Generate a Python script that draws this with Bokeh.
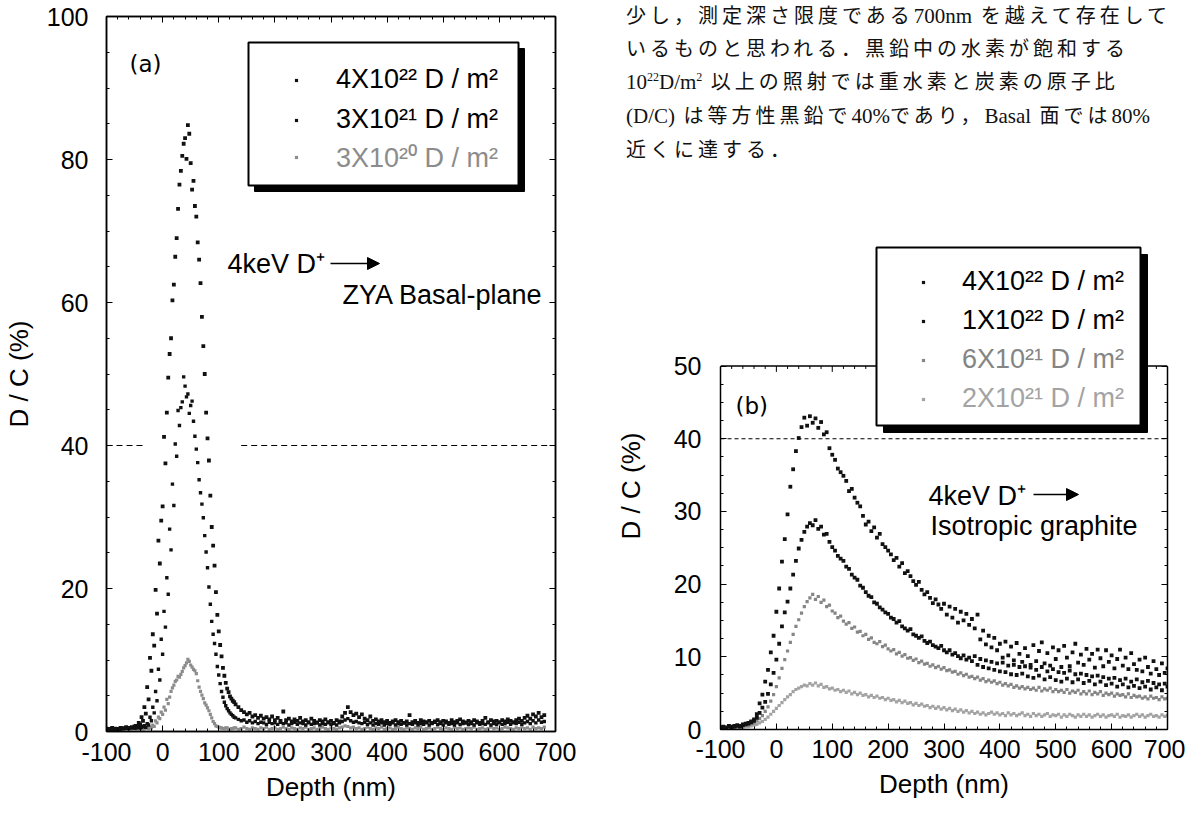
from bokeh.plotting import figure
from bokeh.models import (Range1d, LinearAxis, SingleIntervalTicker, Legend, LegendItem,
                          BoxAnnotation, Label, Arrow, NormalHead, Div, CustomJSTickFormatter, Span)
from bokeh.layouts import row, column
from bokeh.embed import file_html
from bokeh.resources import INLINE

FONT = "Liberation Sans"

# ---------------- data: panel (a) ZYA basal plane ----------------
depth_a = list(range(-100, 685, 5))
dc_a_4e22 = [
    0.4, 0.3, 0.5, 0.4, 0.3, 0.5, 0.4, 0.6, 0.5, 0.6,
    0.7, 0.8, 1.0, 1.5, 2.5, 4.5, 8.5, 12.0, 16.5, 23.5,
    31.5, 37.5, 49.5, 55.0, 62.5, 69.0, 76.5, 80.5, 83.0, 84.8,
    79.5, 77.0, 72.0, 66.0, 58.0, 50.0, 41.0, 33.0, 26.0, 19.5,
    14.0, 10.5, 7.8, 6.0, 4.9, 4.3, 3.8, 3.4, 3.0, 2.7,
    2.4, 2.6, 2.1, 2.3, 1.9, 2.2, 1.8, 2.0, 1.7, 2.1,
    1.6, 1.9, 1.5, 2.8, 1.6, 1.8, 1.4, 1.7, 1.5, 1.9,
    1.4, 1.6, 1.3, 1.8, 1.5, 1.2, 1.6, 1.4, 1.7, 1.3,
    1.5, 1.2, 1.6, 1.4, 2.1, 2.6, 3.4, 2.7, 2.3, 2.5,
    2.0, 2.4, 1.8, 1.6, 2.1, 1.5, 1.7, 1.4, 1.6, 1.3,
    1.5, 1.2, 1.4, 1.6, 1.3, 1.5, 1.2, 1.4, 2.3, 1.3,
    1.5, 1.2, 1.6, 1.4, 1.3, 1.5, 1.2, 1.4, 1.6, 1.3,
    1.5, 1.4, 1.2, 1.6, 1.3, 1.5, 1.7, 1.4, 1.2, 1.5,
    1.3, 1.6, 1.4, 1.2, 1.5, 1.9, 1.3, 1.6, 1.4, 1.5,
    1.3, 1.6, 1.4, 1.7, 1.5, 1.3, 1.6, 1.8, 1.5, 1.9,
    2.2, 1.8, 2.4, 2.1, 2.6, 2.0, 2.3,
]
dc_a_3e21 = [
    0.3, 0.4, 0.3, 0.3, 0.4, 0.3, 0.5, 0.4, 0.4, 0.5,
    0.5, 0.6, 0.5, 0.7, 0.6, 0.9, 1.5, 2.6, 4.3, 7.2,
    10.8, 14.6, 19.2, 25.4, 31.6, 38.5, 42.8, 46.1, 48.3, 47.2,
    45.6, 43.4, 39.5, 35.2, 31.8, 27.4, 22.9, 17.8, 13.6, 10.8,
    7.9, 5.6, 4.1, 3.2, 2.6, 2.2, 1.9, 1.7, 1.5, 1.6,
    1.3, 1.5, 1.2, 1.4, 1.1, 1.3, 1.2, 1.0, 1.3, 1.1,
    1.2, 1.0, 1.3, 1.1, 1.2, 0.9, 1.1, 1.3, 1.0, 1.2,
    1.1, 0.9, 1.2, 1.0, 1.1, 1.3, 0.9, 1.1, 1.0, 1.2,
    1.0, 1.1, 0.9, 1.2, 1.4, 1.6, 1.8, 1.5, 1.3, 1.4,
    1.2, 1.1, 1.3, 1.0, 1.2, 0.9, 1.1, 1.0, 1.2, 0.9,
    1.1, 1.0, 1.2, 0.9, 1.1, 1.0, 1.2, 0.9, 1.1, 1.0,
    1.2, 0.9, 1.1, 1.0, 1.2, 0.9, 1.1, 1.3, 1.0, 1.1,
    0.9, 1.2, 1.0, 1.1, 0.9, 1.2, 1.0, 1.1, 1.3, 1.0,
    1.1, 0.9, 1.2, 1.0, 1.1, 1.0, 1.2, 0.9, 1.1, 1.0,
    1.2, 1.0, 1.1, 1.3, 1.0, 1.2, 1.1, 1.3, 1.0, 1.2,
    1.4, 1.1, 1.5, 1.2, 1.6, 1.3, 1.4,
]
dc_a_3e20 = [
    0.3, 0.4, 0.2, 0.3, 0.4, 0.3, 0.2, 0.4, 0.3, 0.3,
    0.4, 0.3, 0.4, 0.3, 0.5, 0.4, 0.5, 0.7, 1.2, 1.8,
    2.4, 3.0, 3.9, 5.6, 6.5, 7.2, 7.6, 8.4, 9.2, 10.1,
    9.3, 8.7, 8.1, 6.2, 5.1, 4.0, 3.3, 2.4, 1.4, 0.8,
    0.6, 0.5, 0.4, 0.5, 0.3, 0.4, 0.5, 0.3, 0.4, 0.6,
    0.4, 0.3, 0.5, 0.4, 0.3, 0.5, 0.4, 0.6, 0.3, 0.4,
    0.5, 0.3, 0.4, 0.6, 0.4, 0.3, 0.5, 0.4, 0.3, 0.5,
    0.4, 0.6, 0.3, 0.4, 0.5, 0.3, 0.4, 0.6, 0.4, 0.3,
    0.5, 0.4, 0.3, 0.5, 0.6, 0.8, 0.7, 0.5, 0.6, 0.4,
    0.5, 0.3, 0.4, 0.6, 0.4, 0.3, 0.5, 0.4, 0.6, 0.3,
    0.4, 0.5, 0.3, 0.4, 0.6, 0.4, 0.3, 0.5, 0.4, 0.3,
    0.5, 0.4, 0.6, 0.3, 0.4, 0.5, 0.3, 0.4, 0.6, 0.4,
    0.3, 0.5, 0.4, 0.3, 0.6, 0.4, 0.5, 0.3, 0.4, 0.5,
    0.4, 0.6, 0.3, 0.4, 0.5, 0.3, 0.4, 0.6, 0.4, 0.5,
    0.3, 0.4, 0.6, 0.5, 0.4, 0.3, 0.5, 0.4, 0.6, 0.4,
    0.5, 0.3, 0.6, 0.4, 0.5, 0.4, 0.6,
]
# extra (interleaved) points measured across the implantation peak
depth_a_peak = [-47.5 + 5 * i for i in range(36)]
dc_a_4e22_peak = [
    0.8, 1.2, 2.0, 3.4, 6.2, 10.3, 13.6, 19.8, 26.7, 29.5,
    41.2, 44.6, 52.8, 60.3, 66.4, 73.1, 78.4, 82.2, 80.1, 83.6,
    75.8, 73.5, 68.4, 62.7, 53.9, 44.6, 37.9, 28.6, 23.2, 16.3,
    12.1, 8.9, 6.8, 5.5, 4.6, 4.1,
]
dc_a_3e21_peak = [
    0.5, 0.6, 0.6, 0.8, 1.1, 2.0, 3.4, 5.6, 8.7, 12.9,
    16.8, 21.5, 28.3, 34.6, 40.2, 44.9, 45.3, 49.6, 46.8, 44.5,
    46.2, 41.3, 37.6, 33.4, 29.9, 25.1, 20.2, 15.4, 12.3, 9.1,
    6.7, 4.8, 3.6, 2.9, 2.4, 2.0,
]
dc_a_3e20_peak = [
    0.3, 0.4, 0.3, 0.4, 0.5, 0.6, 0.9, 1.5, 2.0, 2.7,
    3.4, 4.5, 4.8, 6.1, 7.0, 7.7, 8.0, 8.9, 9.6, 9.8,
    9.0, 8.5, 7.1, 5.6, 4.6, 3.7, 2.9, 1.9, 1.1, 0.7,
    0.5, 0.4, 0.5, 0.3, 0.4, 0.5,
]
labels_a = ["4X10²² D / m²", "3X10²¹ D / m²", "3X10²⁰ D / m²"]
guide_a_x0 = [-100, 140]
guide_a_x1 = [-35, 700]

# ---------------- data: panel (b) isotropic graphite ----------------
depth_b = list(range(-100, 705, 5))
dc_b_4e22 = [
    0.3, 0.4, 0.3, 0.5, 0.4, 0.5, 0.6, 0.5, 0.7, 0.8,
    0.9, 1.1, 1.4, 2.1, 3.6, 4.8, 6.6, 8.2, 10.6, 12.9,
    16.2, 19.4, 23.1, 26.2, 29.6, 33.4, 35.8, 38.3, 40.1, 41.6,
    42.9, 41.8, 43.1, 42.2, 42.8, 41.5, 42.3, 40.6, 40.9, 38.7,
    37.8, 37.1, 35.9, 35.4, 34.9, 34.2, 32.8, 33.1, 31.9, 31.2,
    30.7, 29.4, 28.2, 28.6, 27.3, 27.8, 26.4, 26.9, 25.5, 25.1,
    24.6, 24.1, 23.3, 23.6, 22.4, 22.9, 21.5, 21.8, 21.1, 20.4,
    19.9, 20.3, 19.2, 18.6, 18.9, 18.1, 17.4, 17.9, 17.2, 16.6,
    17.3, 15.8, 16.9, 15.4, 16.6, 14.7, 16.2, 15.0, 15.9, 14.4,
    15.2, 13.9, 15.8, 12.4, 13.6, 11.7, 12.9, 11.3, 12.6, 10.9,
    11.8, 9.9, 12.1, 10.2, 11.4, 9.5, 11.9, 10.4, 9.3, 11.2,
    10.1, 8.9, 11.6, 9.4, 10.8, 12.0, 9.1, 10.5, 8.8, 11.3,
    9.7, 10.9, 8.6, 11.5, 9.9, 8.7, 10.6, 11.8, 9.2, 10.3,
    8.9, 11.1, 9.6, 10.4, 8.5, 11.0, 9.8, 8.7, 10.9, 9.3,
    10.2, 8.4, 9.7, 11.0, 8.8, 9.9, 8.3, 10.5, 9.0, 8.2,
    9.6, 8.0, 9.9, 8.6, 7.7, 9.4, 8.3, 7.5, 9.1, 7.8,
    8.4,
]
dc_b_1e22 = [
    0.2, 0.3, 0.2, 0.4, 0.3, 0.4, 0.5, 0.4, 0.6, 0.7,
    0.8, 1.0, 1.2, 1.6, 2.3, 3.0, 3.8, 4.9, 6.2, 7.8,
    9.6, 11.8, 14.2, 16.1, 17.6, 19.4, 21.3, 23.2, 24.9, 26.1,
    27.2, 27.9, 28.4, 28.1, 28.8, 27.6, 27.9, 26.8, 26.9, 25.8,
    25.1, 24.6, 23.9, 23.5, 23.2, 22.4, 22.1, 21.3, 20.9, 20.6,
    19.8, 19.5, 18.9, 18.4, 18.2, 17.5, 17.3, 16.8, 16.5, 16.1,
    15.9, 15.4, 15.2, 14.7, 14.9, 14.2, 13.9, 13.6, 13.8, 13.1,
    12.9, 12.6, 12.8, 12.2, 11.9, 12.1, 11.6, 11.4, 11.2, 11.5,
    10.9, 10.6, 10.9, 10.3, 10.5, 10.1, 9.8, 10.2, 9.6, 9.9,
    9.4, 10.1, 8.9, 9.7, 8.6, 9.5, 8.4, 9.3, 8.2, 9.1,
    8.0, 9.2, 7.9, 8.8, 7.6, 8.9, 7.5, 8.6, 7.7, 8.7,
    7.3, 8.5, 7.1, 8.2, 7.4, 8.6, 6.9, 8.0, 7.2, 8.3,
    6.8, 7.9, 6.6, 7.8, 7.0, 8.1, 6.5, 7.6, 6.9, 7.7,
    6.4, 7.5, 6.7, 7.3, 6.2, 7.4, 6.6, 7.2, 6.1, 7.0,
    6.3, 7.1, 5.9, 6.8, 6.2, 7.0, 5.8, 6.6, 6.0, 6.9,
    5.7, 6.5, 5.9, 6.7, 5.5, 6.4, 5.8, 6.2, 5.4, 6.3,
    5.9,
]
dc_b_6e21 = [
    0.2, 0.3, 0.2, 0.3, 0.4, 0.3, 0.4, 0.5, 0.4, 0.6,
    0.6, 0.8, 0.9, 1.2, 1.5, 1.9, 2.5, 3.1, 3.9, 4.8,
    5.9, 7.1, 8.4, 9.6, 10.8, 12.0, 13.1, 14.2, 15.1, 16.0,
    16.9, 17.6, 18.1, 18.6, 17.9, 18.3, 17.5, 17.8, 16.9, 17.1,
    16.3, 16.0, 15.4, 15.6, 14.9, 14.5, 14.7, 13.9, 14.1, 13.4,
    13.5, 12.9, 13.1, 12.4, 12.6, 12.0, 11.8, 12.1, 11.4, 11.6,
    11.1, 10.8, 11.0, 10.4, 10.6, 10.1, 10.3, 9.8, 9.9, 9.5,
    9.7, 9.2, 9.4, 9.0, 9.1, 8.7, 8.9, 8.5, 8.7, 8.3,
    8.5, 8.1, 8.2, 7.9, 8.0, 7.6, 7.8, 7.4, 7.6, 7.2,
    7.3, 7.0, 7.2, 6.8, 7.0, 6.6, 6.8, 6.5, 6.7, 6.3,
    6.5, 6.1, 6.3, 6.0, 6.2, 5.8, 6.0, 5.7, 5.9, 5.6,
    5.8, 5.5, 5.7, 5.4, 5.8, 5.3, 5.6, 5.4, 5.7, 5.2,
    5.5, 5.2, 5.4, 5.1, 5.5, 5.0, 5.3, 5.1, 5.4, 4.9,
    5.2, 4.9, 5.3, 4.8, 5.1, 4.9, 5.2, 4.7, 5.0, 4.8,
    5.0, 4.6, 4.9, 4.7, 4.8, 4.5, 4.9, 4.4, 4.7, 4.5,
    4.6, 4.3, 4.5, 4.2, 4.6, 4.3, 4.4, 4.1, 4.5, 4.2,
    4.3,
]
dc_b_2e21 = [
    0.1, 0.2, 0.1, 0.2, 0.2, 0.3, 0.2, 0.3, 0.3, 0.4,
    0.4, 0.5, 0.6, 0.7, 0.9, 1.1, 1.4, 1.7, 2.1, 2.5,
    2.9, 3.3, 3.7, 4.1, 4.5, 4.8, 5.2, 5.5, 5.7, 5.9,
    6.1, 6.0, 6.3, 6.1, 6.4, 6.0, 6.2, 5.8, 5.9, 5.6,
    5.7, 5.4, 5.5, 5.2, 5.4, 5.1, 5.3, 4.9, 5.1, 4.8,
    5.0, 4.7, 4.8, 4.5, 4.7, 4.4, 4.6, 4.3, 4.4, 4.1,
    4.3, 4.0, 4.1, 3.8, 4.0, 3.7, 3.9, 3.6, 3.7, 3.4,
    3.6, 3.3, 3.5, 3.2, 3.3, 3.0, 3.2, 2.9, 3.1, 2.8,
    3.0, 2.7, 2.9, 2.6, 2.8, 2.5, 2.7, 2.4, 2.6, 2.3,
    2.5, 2.2, 2.4, 2.1, 2.3, 2.0, 2.2, 2.4, 2.1, 2.3,
    2.0, 2.2, 1.9, 2.3, 2.0, 2.2, 1.9, 2.1, 2.3, 1.9,
    2.1, 1.8, 2.2, 1.9, 2.1, 1.8, 2.0, 2.2, 1.8, 2.0,
    1.9, 2.1, 1.7, 2.0, 1.8, 2.1, 1.9, 1.7, 2.0, 1.8,
    2.1, 1.8, 2.0, 1.7, 1.9, 2.1, 1.8, 2.0, 1.7, 1.9,
    2.0, 1.8, 2.1, 1.7, 1.9, 1.8, 2.0, 1.7, 1.9, 2.1,
    1.8, 2.0, 1.7, 1.9, 2.1, 1.8, 1.9, 1.7, 2.0, 1.8,
    1.9,
]
labels_b = ["4X10²² D / m²", "1X10²² D / m²", "6X10²¹ D / m²", "2X10²¹ D / m²"]
guide_b_x0 = [-100]
guide_b_x1 = [700]
guide_level = 40
b_axis_top = 50
top_tick_x = list(range(-100, 701, 20))

for s in (dc_a_4e22, dc_a_3e21, dc_a_3e20):
    assert len(s) == len(depth_a), len(s)
for s in (dc_a_4e22_peak, dc_a_3e21_peak, dc_a_3e20_peak):
    assert len(s) == len(depth_a_peak), len(s)
for s in (dc_b_4e22, dc_b_1e22, dc_b_6e21, dc_b_2e21):
    assert len(s) == len(depth_b), len(s)

paragraph_lines = [
    "少し，測定深さ限度である<span class='l'>700nm</span> を越えて存在して",
    "いるものと思われる．黒鉛中の水素が飽和する",
    "<span class='l'>10<sup>22</sup>D/m<sup>2</sup></span> 以上の照射では重水素と炭素の原子比",
    "<span class='l'>(D/C)</span> は等方性黒鉛で<span class='l'>40%</span>であり，<span class='l'>Basal</span> 面では<span class='l'>80%</span>",
    "近くに達する．",
]

BLACK = "#111111"
GRAY_A = "#8c8c8c"
GRAY_B1 = "#858585"
GRAY_B2 = "#a3a3a3"


def style_axis(ax, tick_standoff, label_standoff):
    ax.axis_line_color = "black"
    ax.axis_line_width = 1.5
    ax.major_tick_line_color = "black"
    ax.minor_tick_line_color = "black"
    ax.major_tick_in = 6
    ax.major_tick_out = 0
    ax.minor_tick_in = 3
    ax.minor_tick_out = 0
    ax.major_label_text_font = FONT
    ax.major_label_text_font_size = "25px"
    ax.major_label_text_color = "black"
    ax.major_label_standoff = tick_standoff
    ax.axis_label_text_font = FONT
    ax.axis_label_text_font_size = "26px"
    ax.axis_label_text_font_style = "normal"
    ax.axis_label_text_color = "black"
    ax.axis_label_standoff = label_standoff


def make_fig(width, height, y_end, y_interval, borders, x_std, y_std, y_bounds=None):
    left, right, top, bottom = borders
    p = figure(width=width, height=height, x_range=Range1d(-100, 700), y_range=Range1d(0, y_end),
               output_backend="svg", toolbar_location=None,
               min_border_left=left, min_border_right=right, min_border_top=top,
               min_border_bottom=bottom)
    p.xgrid.visible = False
    p.ygrid.visible = False
    p.background_fill_color = "white"
    p.border_fill_color = "white"
    if y_bounds is None:
        p.outline_line_color = "black"
        p.outline_line_width = 1.5
    else:
        p.outline_line_color = None
    p.xaxis[0].ticker = SingleIntervalTicker(interval=100, num_minor_ticks=5)
    p.xaxis[0].formatter = CustomJSTickFormatter(code="return tick.toFixed(0)")
    p.yaxis[0].ticker = SingleIntervalTicker(interval=y_interval, num_minor_ticks=4)
    p.xaxis[0].axis_label = "Depth (nm)"
    p.yaxis[0].axis_label = "D / C (%)"
    style_axis(p.xaxis[0], *x_std)
    style_axis(p.yaxis[0], *y_std)
    sides = [("right", SingleIntervalTicker(interval=y_interval, num_minor_ticks=4))]
    if y_bounds is None:
        sides.append(("above", SingleIntervalTicker(interval=100, num_minor_ticks=5)))
    else:
        p.yaxis[0].bounds = y_bounds
    for side, tick in sides:
        ax = LinearAxis(ticker=tick, formatter=CustomJSTickFormatter(code="return ''"))
        style_axis(ax, 0, 0)
        ax.major_label_text_font_size = "1px"
        if y_bounds is not None:
            ax.bounds = y_bounds
        p.add_layout(ax, side)
    return p


def legend_entry(p, renderer, label, color, x, y, standoff):
    lg = Legend(items=[LegendItem(label=label, renderers=[renderer])], location=(x, y),
                glyph_width=8, glyph_height=30, label_height=30, label_standoff=standoff,
                padding=0, margin=0, spacing=0, border_line_alpha=0, background_fill_alpha=0,
                label_text_font=FONT, label_text_font_size="27px", label_text_color=color)
    p.add_layout(lg)


def legend_box(p, left, right, bottom, top, shadow):
    kw = dict(left_units="screen", right_units="screen", bottom_units="screen", top_units="screen")
    sh = BoxAnnotation(left=left + shadow, right=right + shadow, bottom=bottom - shadow,
                       top=top - shadow, fill_color="black", fill_alpha=1,
                       line_color="black", line_alpha=1, line_width=1, **kw)
    bx = BoxAnnotation(left=left, right=right, bottom=bottom, top=top,
                       fill_color="white", fill_alpha=1, line_color="black", line_alpha=1,
                       line_width=2, **kw)
    p.add_layout(sh)
    p.add_layout(bx)


def text(p, x, y, s, size="27px", font=FONT):
    p.add_layout(Label(x=x, y=y, x_units="screen", y_units="screen", text=s,
                       text_font=font, text_font_size=size, text_color="black",
                       text_align="left", text_baseline="middle"))


def arrow(p, x0, x1, y):
    p.add_layout(Arrow(x_start=x0, y_start=y, x_end=x1, y_end=y,
                       start_units="screen", end_units="screen",
                       line_color="black", line_width=1.5,
                       end=NormalHead(size=12, fill_color="black", line_color="black")))


# ---------------- panel (a) ----------------
pa = make_fig(612, 809, 100, 20, (102, 57, 16, 78), (11, 8), (18, 10))
pa.segment(x0=guide_a_x0, y0=[guide_level] * len(guide_a_x0), x1=guide_a_x1,
           y1=[guide_level] * len(guide_a_x1), line_color="black", line_width=1.2,
           line_dash="6 4")
ra3 = pa.scatter(depth_a + depth_a_peak, dc_a_3e20 + dc_a_3e20_peak, marker="square", size=3.2,
                 fill_color=GRAY_A, line_color=None)
ra2 = pa.scatter(depth_a + depth_a_peak, dc_a_3e21 + dc_a_3e21_peak, marker="square", size=3.4,
                 fill_color=BLACK, line_color=None)
ra1 = pa.scatter(depth_a + depth_a_peak, dc_a_4e22 + dc_a_4e22_peak, marker="square", size=3.8,
                 fill_color=BLACK, line_color=None)

legend_box(pa, 142, 412, 546, 689, 6)
for r, lab, col, yb in zip((ra1, ra2, ra3), labels_a, ("black", "black", GRAY_A), (636, 596, 556)):
    legend_entry(pa, r, lab, col, 186, yb, 36)
text(pa, 23, 668, "(a)", size="23px", font="DejaVu Sans")
text(pa, 121, 468, "4keV D⁺")
arrow(pa, 224, 273, 468)
text(pa, 236, 437, "ZYA Basal-plane")

# ---------------- panel (b) ----------------
# frame reaches up to the legend box; the drawn axis box stops at 50 %
pb = make_fig(573, 629, 67, 10, (107, 18, 62, 80), (10, 8), (19, 25), y_bounds=(0, b_axis_top))
pb.add_layout(Span(location=b_axis_top, dimension="width", line_color="black", line_width=1.5))
pb.segment(x0=top_tick_x, y0=[b_axis_top] * len(top_tick_x), x1=top_tick_x,
           y1=[b_axis_top - (0.8 if (t + 100) % 100 == 0 else 0.4) for t in top_tick_x],
           line_color="black", line_width=1)
pb.segment(x0=guide_b_x0, y0=[guide_level], x1=guide_b_x1, y1=[guide_level],
           line_color="black", line_width=1.2, line_dash="4 3")
rb4 = pb.scatter(depth_b, dc_b_2e21, marker="square", size=3.2, fill_color=GRAY_B2, line_color=None)
rb3 = pb.scatter(depth_b, dc_b_6e21, marker="square", size=3.2, fill_color=GRAY_B1, line_color=None)
rb2 = pb.scatter(depth_b, dc_b_1e22, marker="square", size=3.8, fill_color=BLACK, line_color=None)
rb1 = pb.scatter(depth_b, dc_b_4e22, marker="square", size=3.8, fill_color=BLACK, line_color=None)

legend_box(pb, 156, 420, 304, 482, 7)
for r, lab, col, yb in zip((rb1, rb2, rb3, rb4), labels_b, ("black", "black", GRAY_B1, GRAY_B2),
                           (432, 393, 354, 315)):
    legend_entry(pb, r, lab, col, 199, yb, 35)
text(pb, 15, 324, "(b)", size="23px", font="DejaVu Sans")
text(pb, 208, 234, "4keV D⁺")
arrow(pb, 313, 358, 235)
text(pb, 210, 204, "Isotropic graphite")

# ---------------- paragraph ----------------
line_tops = [0, 33, 66, 100, 134]
html = ("<style>.l{font-family:'Liberation Serif';letter-spacing:0;font-size:21px;}"
        "sup{font-size:12px;vertical-align:super;line-height:0;}</style>"
        "<div style=\"position:relative;width:573px;height:180px;"
        "font-family:'Noto Sans CJK JP';font-size:20px;color:#111;white-space:nowrap;\">")
for t, s in zip(line_tops, paragraph_lines):
    html += ("<div style=\"position:absolute;left:14px;top:%spx;line-height:30px;"
             "letter-spacing:4px;\">%s</div>" % (t, s))
html += "</div>"
para = Div(text=html, width=573, height=180, margin=(0, 0, 0, 0))

layout = row(pa, column(para, pb, spacing=0), spacing=0)
open("out.html", "w").write(file_html(layout, INLINE))
